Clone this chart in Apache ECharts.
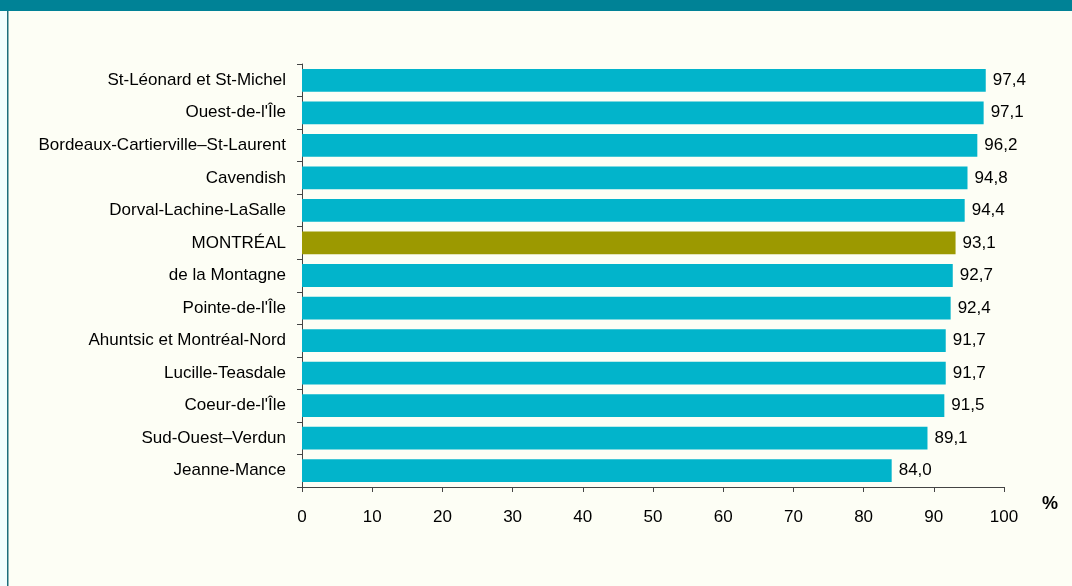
<!DOCTYPE html>
<html>
<head>
<meta charset="utf-8">
<script src="https://cdn.jsdelivr.net/npm/echarts@6/dist/echarts.min.js"></script>
<style>
  html, body { margin: 0; padding: 0; background: #F0FEFE; }
  #chart { width: 1072px; height: 586px; }
</style>
</head>
<body>
<div id="chart"></div>
<script>
// Territories, ordered top to bottom
const categories = [
  "St-Léonard et St-Michel",
  "Ouest-de-l'Île",
  "Bordeaux-Cartierville–St-Laurent",
  "Cavendish",
  "Dorval-Lachine-LaSalle",
  "MONTRÉAL",
  "de la Montagne",
  "Pointe-de-l'Île",
  "Ahuntsic et Montréal-Nord",
  "Lucille-Teasdale",
  "Coeur-de-l'Île",
  "Sud-Ouest–Verdun",
  "Jeanne-Mance"
];
const values = [97.4, 97.1, 96.2, 94.8, 94.4, 93.1, 92.7, 92.4, 91.7, 91.7, 91.5, 89.1, 84.0];
const highlight = "MONTRÉAL";
const xTicks = [0, 10, 20, 30, 40, 50, 60, 70, 80, 90, 100];

const font = "'Liberation Sans', Arial, sans-serif";
const chart = echarts.init(document.getElementById('chart'));

chart.setOption({
  backgroundColor: 'transparent',
  animation: false,
  graphic: [
    { type: 'rect', left: 8, top: 0, shape: { width: 1064, height: 586 }, style: { fill: '#FDFEF5' }, z: -10 },
    { type: 'rect', left: 7, top: 0, shape: { width: 1.5, height: 586 }, style: { fill: '#1C6E7C' }, z: -9 },
    { type: 'rect', left: 0, top: 0, shape: { width: 1072, height: 11 }, style: { fill: '#008296' }, z: -8 },
    { type: 'text', left: 1042, top: 495, style: { text: '%', font: "bold 18px " + font, fill: '#000' } }
  ],
  grid: { left: 302, right: 68, top: 64, bottom: 99, containLabel: false },
  xAxis: {
    type: 'value', min: xTicks[0], max: xTicks[xTicks.length - 1], interval: 10,
    splitLine: { show: false },
    axisLine: { show: true, lineStyle: { color: '#444', width: 1 } },
    axisTick: { show: true, length: 5, lineStyle: { color: '#444' } },
    axisLabel: { color: '#000', fontSize: 17, fontFamily: font, margin: 22 }
  },
  yAxis: {
    type: 'category', data: categories, inverse: true,
    axisLine: { show: true, lineStyle: { color: '#444', width: 1 } },
    axisTick: { show: true, length: 5, lineStyle: { color: '#444' } },
    axisLabel: { color: '#000', fontSize: 17, fontFamily: font, margin: 16 }
  },
  series: [{
    type: 'bar',
    barWidth: '70%',
    data: values.map((v, i) => ({
      value: v,
      itemStyle: { color: categories[i] === highlight ? '#9C9900' : '#02B4CB' }
    })),
    label: {
      show: true, position: 'right', distance: 7,
      color: '#000', fontSize: 17, fontFamily: font,
      formatter: p => p.value.toFixed(1).replace('.', ',')
    }
  }]
});
</script>
</body>
</html>
